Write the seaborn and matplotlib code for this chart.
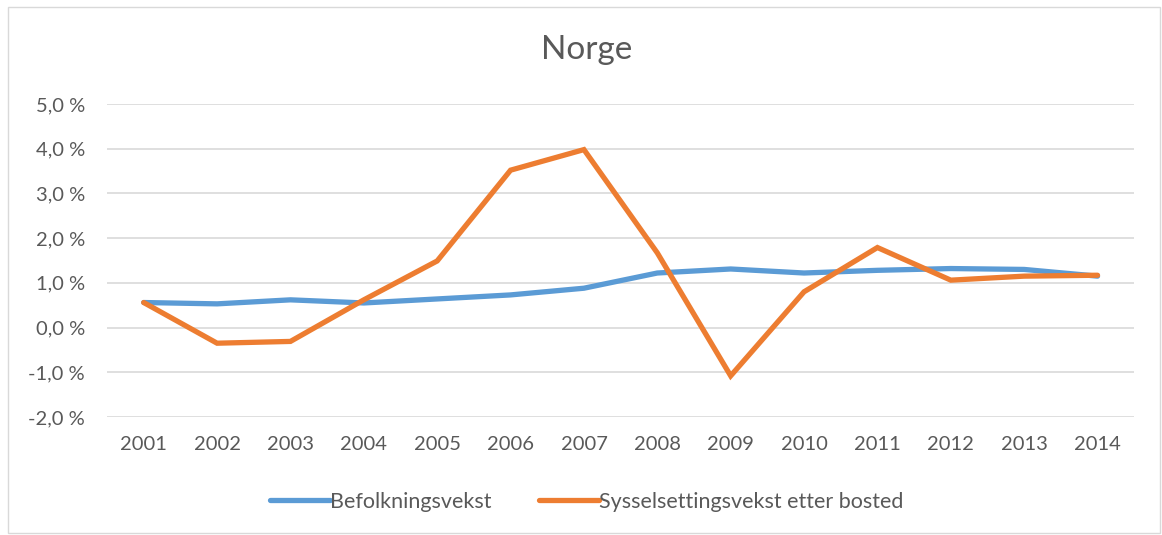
import matplotlib.pyplot as plt
import pandas as pd
import seaborn as sns
from matplotlib.patches import Rectangle
from matplotlib.ticker import FuncFormatter

# Årlig vekst i prosent, lest av figuren
years = [2001, 2002, 2003, 2004, 2005, 2006, 2007, 2008, 2009, 2010, 2011, 2012, 2013, 2014]
befolkning = [0.56, 0.53, 0.62, 0.55, 0.64, 0.73, 0.88, 1.22, 1.31, 1.22, 1.28, 1.32, 1.30, 1.15]
sysselsetting = [0.56, -0.35, -0.31, 0.62, 1.49, 3.52, 3.98, 1.67, -1.08, 0.80, 1.79, 1.06, 1.15, 1.17]
series_names = ["Befolkningsvekst", "Sysselsettingsvekst etter bosted"]
y_ticks = [-2, -1, 0, 1, 2, 3, 4, 5]

TEXT = "#595959"
GRID = "#D9D9D9"
COLORS = {series_names[0]: "#5B9BD5", series_names[1]: "#ED7D31"}

df = pd.DataFrame({"year": years, series_names[0]: befolkning, series_names[1]: sysselsetting})
long = df.melt(id_vars="year", var_name="serie", value_name="vekst")

sns.set_theme(style="white")
plt.rcParams["font.family"] = ["Lato", "DejaVu Sans"]

fig = plt.figure(figsize=(11.62, 5.35), dpi=100)
ax = fig.add_axes([0.0921, 0.2206, 0.884, 0.585])

sns.lineplot(data=long, x="year", y="vekst", hue="serie", palette=COLORS,
             linewidth=3.8, ax=ax, legend=True)
for line in ax.get_lines():
    line.set_solid_capstyle("round")
    line.set_solid_joinstyle("miter")

ax.set_xlim(years[0] - 0.5, years[-1] + 0.5)
ax.set_ylim(y_ticks[0], y_ticks[-1])
ax.set_xticks(years)
ax.set_yticks(y_ticks)
ax.yaxis.set_major_formatter(FuncFormatter(lambda v, _: f"{v:.1f} %".replace(".", ",")))
ax.grid(axis="y", color=GRID, linewidth=1.2)
ax.set_axisbelow(True)
for side in ["top", "right", "left", "bottom"]:
    ax.spines[side].set_visible(False)
ax.tick_params(axis="both", length=0, labelsize=14.5, colors=TEXT)
ax.tick_params(axis="x", pad=14)
ax.tick_params(axis="y", pad=16)
ax.set_xlabel("")
ax.set_ylabel("")
fig.text(0.505, 0.907, "Norge", fontsize=24, color=TEXT, ha="center", va="center")

handles, labels = ax.get_legend_handles_labels()
ax.get_legend().remove()
leg = fig.legend(handles, labels, loc="center", bbox_to_anchor=(0.505, 0.062), ncol=2,
                 frameon=False, fontsize=15.5, handlelength=2.8, handletextpad=0.0,
                 columnspacing=2.2)
for text in leg.get_texts():
    text.set_color(TEXT)

fig.patches.append(Rectangle((0.007, 0.004), 0.991, 0.982, transform=fig.transFigure,
                             fill=False, edgecolor=GRID, linewidth=1))

fig.savefig("out.png", dpi=100)
